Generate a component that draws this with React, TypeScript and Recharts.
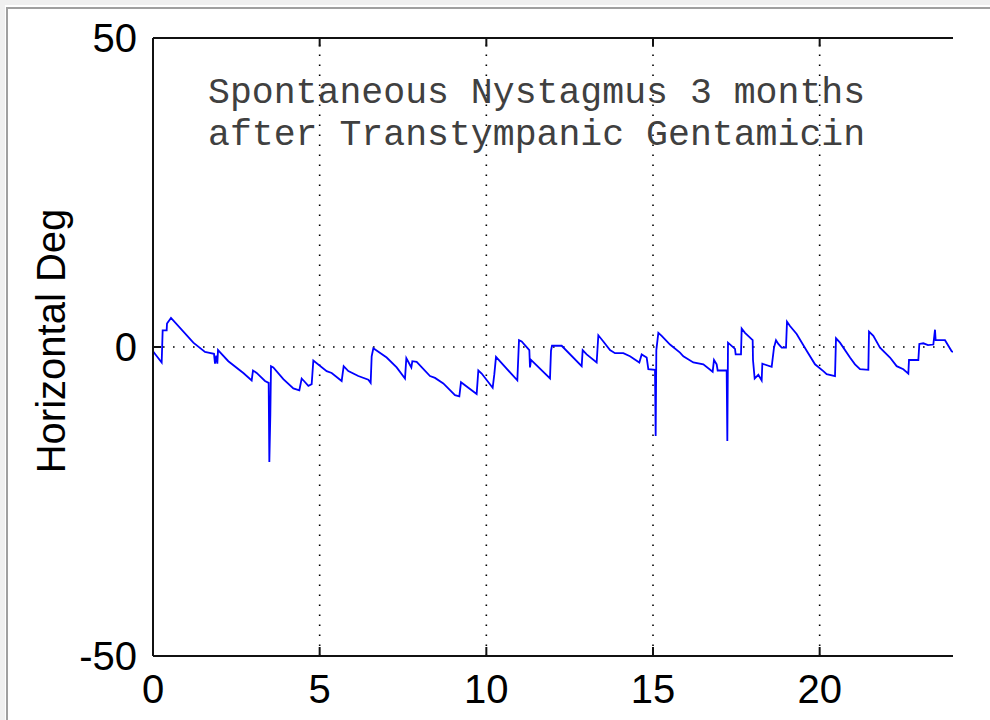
import React from "react";
import {
  LineChart,
  Line,
  XAxis,
  YAxis,
  ReferenceLine,
  Label,
} from "recharts";

const timeSec: number[] = [
  0.0, 0.26, 0.29, 0.41, 0.42, 0.54, 1.21, 1.56, 1.66, 1.83, 1.86, 1.9, 1.93, 1.95, 2.0, 2.26, 2.71, 2.96,
  3.0, 3.11, 3.36, 3.47, 3.49, 3.52, 3.54, 3.61, 3.91, 4.21, 4.39, 4.46, 4.53, 4.66, 4.76, 4.78, 4.81,
  5.21, 5.36, 5.66, 5.72, 5.86, 6.16, 6.46, 6.53, 6.56, 6.61, 7.01, 7.31, 7.56, 7.6, 7.67, 7.75, 7.78,
  7.91, 8.31, 8.46, 8.71, 9.06, 9.19, 9.24, 9.71, 9.76, 9.86, 10.19, 10.24, 10.29, 10.93, 10.98, 11.06,
  11.29, 11.31, 11.34, 11.91, 11.94, 11.97, 12.26, 12.86, 12.89, 13.01, 13.31, 13.36, 13.51, 13.71,
  13.86, 14.11, 14.31, 14.59, 14.66, 14.81, 14.86, 15.06, 15.08, 15.1, 15.16, 15.26, 15.51, 15.81,
  15.91, 16.21, 16.51, 16.79, 16.83, 16.91, 16.94, 17.21, 17.23, 17.25, 17.46, 17.48, 17.64, 17.66,
  17.76, 17.99, 18.0, 18.05, 18.16, 18.26, 18.28, 18.56, 18.63, 18.69, 18.76, 18.86, 18.99, 19.02,
  19.11, 19.31, 19.61, 19.86, 20.11, 20.21, 20.46, 20.49, 20.61, 20.91, 21.06, 21.21, 21.46, 21.48,
  21.61, 21.81, 22.11, 22.31, 22.51, 22.66, 22.68, 22.96, 22.99, 23.11, 23.25, 23.41, 23.46, 23.48,
  23.76, 23.96, 24.0,
];

const horizontalDeg: number[] = [
  -0.7, -2.5, 2.7, 2.7, 3.8, 4.7, 0.7, -0.8, -0.9, -1.1, -2.7, -1.4, -2.7, -0.5, -0.8, -2.3, -4.2, -5.4,
  -3.8, -4.2, -5.5, -5.8, -18.6, -11.0, -3.1, -3.3, -5.2, -6.7, -7.0, -5.1, -5.5, -6.3, -6.0, -4.5, -2.2,
  -3.9, -4.2, -5.5, -3.1, -3.9, -4.7, -5.3, -5.8, -1.5, -0.2, -1.7, -3.3, -5.1, -1.8, -2.5, -3.3, -2.3,
  -2.4, -4.7, -5.0, -5.9, -7.8, -8.0, -5.7, -7.6, -3.8, -4.3, -6.6, -4.4, -1.6, -5.4, 1.1, 0.9,
  -0.5, -3.3, -2.1, -5.1, -0.6, 0.2, 0.2, -3.1, -0.5, -1.2, -2.5, 1.9, 0.9, -0.5,
  -1.0, -1.0, -1.5, -2.5, -1.2, -1.7, -3.6, -3.7, -14.4, -0.5, 2.3, 1.8, 0.4, -0.9,
  -1.5, -2.5, -2.8, -4.0, -2.1, -2.8, -3.8, -3.8, -15.2, 0.7, -0.3, -1.2, -1.2, 3.0,
  2.3, 1.1, -2.1, -5.1, -4.5, -5.4, -2.7, -3.2, -0.1, 1.1, 0.5, -0.1, -0.1, 4.1,
  3.4, 2.1, -0.6, -2.8, -3.9, -4.4, -4.7, 1.4, 0.7, -1.7, -2.8, -3.6, -3.7, 2.5,
  1.8, -0.1, -1.7, -3.1, -3.6, -4.3, -2.1, -2.1, 0.5, 0.6, 0.3, 0.4, 2.8, 1.1,
  1.1, -0.7, -0.8,
];

const xTicks: number[] = [0, 5, 10, 15, 20];
const yTicks: number[] = [-50, 0, 50];
const xGrid: number[] = [5, 10, 15, 20];
const yGrid: number[] = [0];
const yTop = 50;

const titleLines: string[] = [
  "Spontaneous Nystagmus 3 months",
  "after Transtympanic Gentamicin",
];
const yLabel = "Horizontal Deg";

const data = timeSec.map((t, i) => ({ t, v: horizontalDeg[i] }));

const tickStyle = {
  fontFamily: "'Liberation Sans', Arial, sans-serif",
  fontSize: 40,
  fill: "#000",
};

const frameStroke = { stroke: "#111", strokeWidth: 2 };

export default function App() {
  return (
    <div
      style={{
        position: "absolute",
        left: 0,
        top: 0,
        width: 990,
        height: 720,
        background: "#fff",
        overflow: "hidden",
      }}
    >
      <div style={{ position: "absolute", left: 0, top: 0, width: 5, height: 720, background: "#f0f0f0" }} />
      <div style={{ position: "absolute", left: 0, top: 0, width: 990, height: 5, background: "#f0f0f0" }} />
      <div style={{ position: "absolute", left: 6, top: 7, width: 2, height: 713, background: "#a0a0a0" }} />
      <div style={{ position: "absolute", left: 6, top: 7, width: 984, height: 2, background: "#a0a0a0" }} />
      <div style={{ position: "absolute", left: 0, top: 0 }}>
        <LineChart
          width={990}
          height={720}
          data={data}
          margin={{ top: 38, right: 37, bottom: 4, left: 0 }}
        >
          <XAxis
            dataKey="t"
            type="number"
            domain={[0, 24]}
            ticks={xTicks}
            allowDataOverflow
            height={60}
            tick={tickStyle}
            tickSize={-9}
            tickMargin={28}
            axisLine={frameStroke}
            tickLine={frameStroke}
          />
          <YAxis
            type="number"
            domain={[-50, 50]}
            ticks={yTicks}
            allowDataOverflow
            width={153}
            tick={tickStyle}
            tickSize={-8}
            tickMargin={24}
            axisLine={frameStroke}
            tickLine={frameStroke}
          >
            <Label
              content={() => (
                <text
                  x={51}
                  y={341}
                  transform="rotate(-90 51 341)"
                  textAnchor="middle"
                  dominantBaseline="central"
                  style={{
                    fontFamily: "'Liberation Sans', Arial, sans-serif",
                    fontSize: 40,
                    fill: "#000",
                  }}
                >
                  {yLabel}
                </text>
              )}
            />
          </YAxis>
          <YAxis
            yAxisId="right"
            orientation="right"
            type="number"
            domain={[-50, 50]}
            ticks={yTicks}
            width={0}
            tick={() => <g />}
            tickSize={-8}
            axisLine={frameStroke}
            tickLine={frameStroke}
          />
          {xGrid.map((x) => (
            <ReferenceLine
              key={"x" + x}
              x={x}
              stroke="#000"
              strokeWidth={1.6}
              strokeDasharray="1.6 8.4"
            />
          ))}
          {yGrid.map((y) => (
            <ReferenceLine
              key={"y" + y}
              y={y}
              stroke="#000"
              strokeWidth={1.6}
              strokeDasharray="1.6 8.4"
            />
          ))}
          <ReferenceLine y={yTop} stroke="#111" strokeWidth={2} ifOverflow="visible" />
          {xGrid.map((x) => (
            <ReferenceLine
              key={"tt" + x}
              segment={[
                { x, y: 50 },
                { x, y: 48.6 },
              ]}
              stroke="#111"
              strokeWidth={2}
            />
          ))}
          <Line
            type="linear"
            dataKey="v"
            stroke="#0000ff"
            strokeWidth={1.8}
            dot={false}
            isAnimationActive={false}
          />
        </LineChart>
      </div>
      <div
        style={{
          position: "absolute",
          left: 208,
          top: 73,
          fontFamily: "'Liberation Mono', 'Courier New', monospace",
          fontSize: 36.5,
          lineHeight: "42px",
          color: "#404040",
          whiteSpace: "pre",
        }}
      >
        {titleLines.map((l) => (
          <div key={l}>{l}</div>
        ))}
      </div>
    </div>
  );
}
